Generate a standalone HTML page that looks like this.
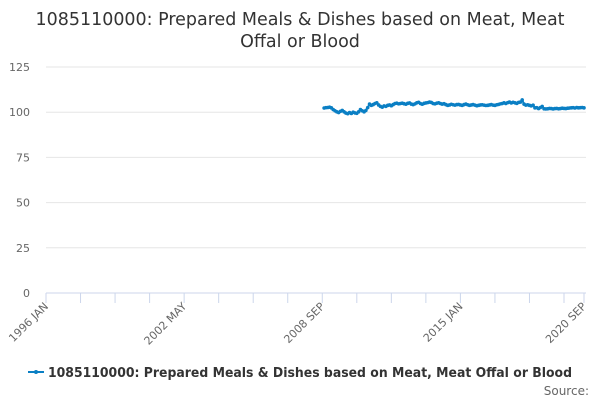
<!DOCTYPE html>
<html><head><meta charset="utf-8"><style>
body{margin:0;background:#fff;}
svg text{font-family:"DejaVu Sans","Liberation Sans",sans-serif;}
</style></head><body>
<svg id="chart" width="600" height="400" xmlns="http://www.w3.org/2000/svg">
<text x="300" y="25" text-anchor="middle" font-size="17.5" fill="#333" textLength="529" lengthAdjust="spacingAndGlyphs">1085110000: Prepared Meals &amp; Dishes based on Meat, Meat</text>
<text x="300" y="47" text-anchor="middle" font-size="17.5" fill="#333">Offal or Blood</text>
<g id="grid"></g><g id="xaxis"></g><g id="series"></g>
<g>
<line x1="28" y1="372" x2="44" y2="372" stroke="#0a7fc4" stroke-width="2"/>
<circle cx="36" cy="372" r="2" fill="#0a7fc4"/>
<text x="48" y="377" font-size="13" font-weight="bold" fill="#333" textLength="524" lengthAdjust="spacingAndGlyphs">1085110000: Prepared Meals &amp; Dishes based on Meat, Meat Offal or Blood</text>
</g>
<text x="589" y="395" text-anchor="end" font-size="12" fill="#666">Source:</text>
</svg>
<script>
const yTicks=[0,25,50,75,100,125];
const xLabels=["1996 JAN","2002 MAY","2008 SEP","2015 JAN","2020 SEP"];
const xLabelMonths=[0,76,152,228,296];
const startMonth=153;
const values=[102.3,102.5,102.6,
102.8,102.4,101.5,100.8,100.2,99.8,100.5,101,100.2,99.5,99.2,99.8,
99.3,100,99.6,99.4,100.2,101.5,100.8,100.2,101,102.5,104.5,103.8,
104.2,104.8,105.2,104,103.2,102.8,103.5,103.2,103.8,104,103.6,104.2,
104.8,105,104.6,104.8,105,104.7,104.4,104.9,105.1,104.5,104.2,104.6,
105.2,105.5,104.8,104.4,104.9,105.1,105.3,105.6,105.4,104.8,104.6,105,
105.2,104.8,104.5,104.7,104.2,103.8,104,104.4,104.1,103.9,104.2,104.3,
104,103.8,104.2,104.5,104.1,103.8,104,104.2,103.9,103.6,103.8,104,
104.1,103.9,103.7,103.8,104,104.2,103.9,103.8,104.1,104.3,104.6,104.8,
105.2,104.8,105.3,105.6,105.1,105.5,105.2,104.9,105.4,105.6,106.8,104.5,
103.9,104.1,103.8,103.5,103.9,102.4,102.5,102,102.6,103.2,101.9,101.8,
101.9,102.1,102,101.8,102,102.1,101.9,102,102.2,102.1,102,102.2,
102.3,102.4,102.5,102.3,102.6,102.4,102.5,102.6,102.4];
const X0=46,X1=584,TOTAL=296,Y0=293,Y1=67,YMAX=125;
const xs=m=>X0+m*(X1-X0)/TOTAL;
const ys=v=>Y0-v*(Y0-Y1)/YMAX;
const NS="http://www.w3.org/2000/svg";
function mk(t,a,p){const e=document.createElementNS(NS,t);for(const k in a)e.setAttribute(k,a[k]);p.appendChild(e);return e;}
const grid=document.getElementById('grid');
yTicks.forEach(v=>{
 if(v>0){const l=mk('line',{x1:X0,x2:X1+2,y1:ys(v),y2:ys(v),stroke:'#e6e6e6'},grid);
 
 }
 const t=mk('text',{x:30,y:ys(v)+4,'text-anchor':'end','font-size':11,fill:'#666'},grid);t.textContent=v;
 
 
});
const xa=document.getElementById('xaxis');
const ax=mk('line',{x1:X0,x2:X1+2,y1:Y0,y2:Y0,stroke:'#ccd6eb'},xa);


const tms=[];for(let m=0;m<=TOTAL;m+=19)tms.push(m);tms.push(TOTAL);
tms.forEach(m=>{const t=mk('line',{x1:xs(m),x2:xs(m),y1:Y0,y2:Y0+10,stroke:'#ccd6eb'},xa);
 
 });
xLabels.forEach((s,i)=>{const x=xs(xLabelMonths[i]);
 const t=mk('text',{x:x+3,y:Y0+14,'text-anchor':'end','font-size':11,fill:'#666',transform:`rotate(-45 ${x+3} ${Y0+14})`},xa);t.textContent=s;
 
 });
const sg=document.getElementById('series');
const pts=values.map((v,i)=>xs(startMonth+i).toFixed(1)+','+ys(v).toFixed(1)).join(' ');
const pl=mk('polyline',{points:pts,fill:'none',stroke:'#0a7fc4','stroke-width':2},sg);


values.forEach((v,i)=>{const c=mk('circle',{cx:xs(startMonth+i),cy:ys(v),r:1.8,fill:'#0a7fc4'},sg);
 
 });
</script>
</body></html>
